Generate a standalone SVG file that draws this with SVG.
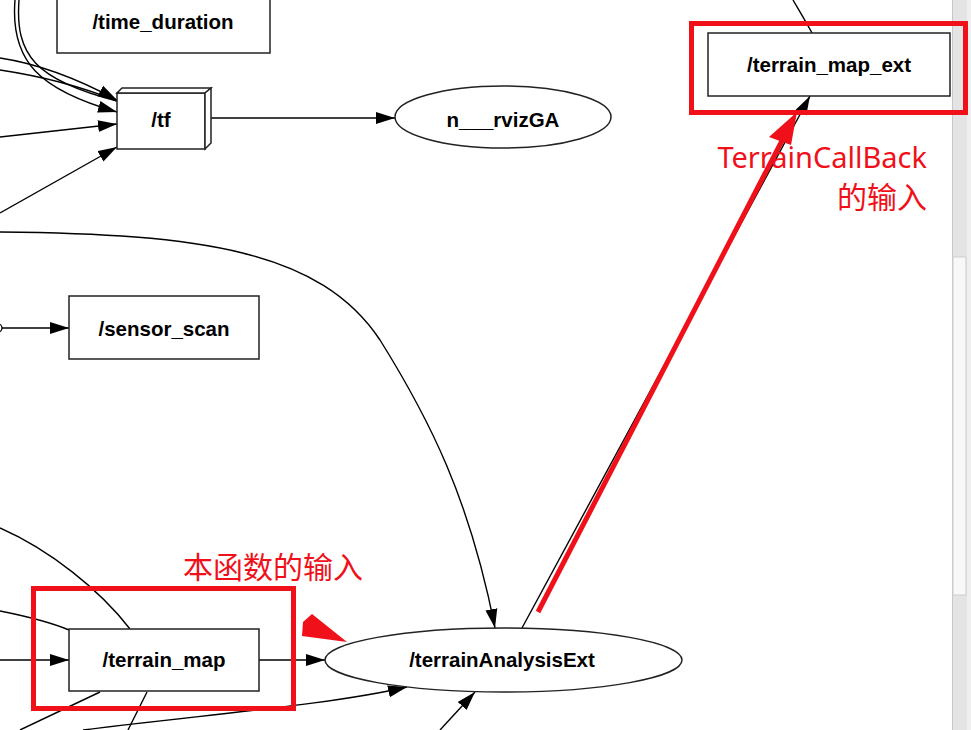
<svg xmlns="http://www.w3.org/2000/svg" width="971" height="730" viewBox="0 0 971 730">
<style>
.nd{fill:#fff;stroke:#222;stroke-width:1.5}
.lb{font-family:"Liberation Sans",Arial,sans-serif;font-weight:bold;font-size:20.5px;fill:#000;text-anchor:middle}
.ed{fill:none;stroke:#000;stroke-width:1.4}
.rd{fill:none;stroke:#f0101a;stroke-width:5}
.rt{font-family:"Noto Sans","Noto Sans CJK SC",sans-serif;fill:#f0101a}
</style>
<defs>
<marker id="arr" markerUnits="userSpaceOnUse" markerWidth="20" markerHeight="14" refX="19" refY="6.5" orient="auto" viewBox="0 0 20 14">
<path d="M0,0.5 L19,6.5 L0,12.5 z" fill="#000"/>
</marker>
</defs>
<rect width="971" height="730" fill="#fff"/>
<g id="connectors">
<path class="ed" d="M211,118 L395,118" marker-end="url(#arr)"/>
<path class="ed" d="M0,58 C40,64 80,80 117,100" marker-end="url(#arr)"/>
<path class="ed" d="M0,70 C40,76 80,86 117,101"/>
<path class="ed" d="M19,0 C15,55 35,80 117,101"/>
<path class="ed" d="M15,0 C10,62 40,90 117,112" marker-end="url(#arr)"/>
<path class="ed" d="M0,137 L117,124" marker-end="url(#arr)"/>
<path class="ed" d="M0,213 L117,147" marker-end="url(#arr)"/>
<path class="ed" d="M0,232 C200,234 320,250 380,340 C430,420 470,500 495,628" marker-end="url(#arr)"/>
<path class="ed" d="M2,328 L69,328" marker-end="url(#arr)"/>
<circle cx="-2" cy="328" r="4" fill="#fff" stroke="#000" stroke-width="1.3"/>
<path class="ed" d="M0,660 L69,660" marker-end="url(#arr)"/>
<path class="ed" d="M259,660 L325,660" marker-end="url(#arr)"/>
<path class="ed" d="M0,528 C50,550 100,590 130,629"/>
<path class="ed" d="M0,611 C25,616 50,622 69,630"/>
<path class="ed" d="M100,692 L20,730"/>
<path class="ed" d="M147,692 L128,730"/>
<path class="ed" d="M83,730 C200,715 330,705 407,687" marker-end="url(#arr)"/>
<path class="ed" d="M440,730 L475,692" marker-end="url(#arr)"/>
<path class="ed" d="M522,628 L810,96" marker-end="url(#arr)"/>
<path class="ed" d="M793,0 C800,12 806,22 812,33"/>
</g>
<g id="time_duration">
<rect class="nd" x="57" y="-10" width="213" height="63"/>
<text class="lb" x="163" y="29">/time_duration</text>
</g>
<g id="tf">
<rect class="nd" x="117" y="93" width="88" height="56"/>
<polygon class="nd" points="117,93 122,88 211,88 205,93"/>
<polygon class="nd" points="205,93 211,88 211,143 205,149"/>
<text class="lb" x="161" y="127">/tf</text>
</g>
<g id="n___rvizGA">
<ellipse class="nd" cx="503" cy="117" rx="108" ry="31"/>
<text class="lb" x="503" y="127">n___rvizGA</text>
</g>
<g id="terrain_map_ext">
<rect class="nd" x="708" y="33" width="242" height="63"/>
<text class="lb" x="829" y="72">/terrain_map_ext</text>
</g>
<g id="sensor_scan">
<rect class="nd" x="69" y="296" width="190" height="63"/>
<text class="lb" x="164" y="336">/sensor_scan</text>
</g>
<g id="terrain_map">
<rect class="nd" x="69" y="629" width="190" height="62"/>
<text class="lb" x="164" y="667">/terrain_map</text>
</g>
<g id="terrainAnalysisExt">
<ellipse class="nd" cx="503.5" cy="660" rx="178.5" ry="32"/>
<text class="lb" x="502" y="667">/terrainAnalysisExt</text>
</g>
<g id="scrollbar">
<rect x="952" y="0" width="15" height="730" fill="#e4e4e4"/>
<line x1="952.5" y1="0" x2="952.5" y2="730" stroke="#c8c8c8"/>
<rect x="953" y="257" width="13" height="338" fill="#f8f8f8" stroke="#cdcdcd" stroke-width="1"/>
<rect x="967" y="0" width="4" height="730" fill="#efefef"/>
</g>
<g id="annotations">
<rect class="rd" x="33.5" y="588.5" width="260" height="120"/>
<rect class="rd" x="691.5" y="23.5" width="274" height="89"/>
<path d="M538,612 L785,135" stroke="#f0101a" stroke-width="5" fill="none"/>
<polygon points="797,112 769,137 791,145" fill="#f0101a"/>
<polygon points="303,622 312,614 347,642 302,636" fill="#f0101a"/>
<text class="rt" x="927" y="168" font-size="29" text-anchor="end">TerrainCallBack</text>
<text class="rt" x="927" y="208" font-size="30" text-anchor="end">的输入</text>
<text class="rt" x="183" y="578" font-size="30">本函数的输入</text>
</g>
</svg>
